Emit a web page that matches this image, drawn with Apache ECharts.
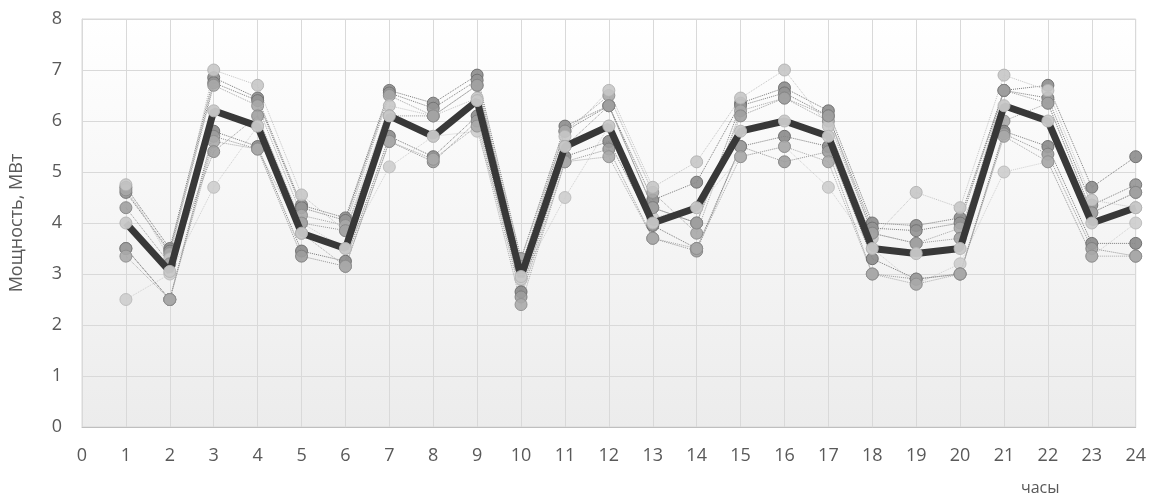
<!DOCTYPE html>
<html>
<head>
<meta charset="utf-8">
<script src="https://cdn.jsdelivr.net/npm/echarts@6/dist/echarts.min.js"></script>
<style>
  html, body { margin: 0; padding: 0; background: #ffffff; }
  #chart { width: 1149px; height: 495px; }
</style>
</head>
<body>
<div id="chart"></div>
<script>
// Hourly power readings (MW) for individual days, plus the average profile
const hours = [1,2,3,4,5,6,7,8,9,10,11,12,13,14,15,16,17,18,19,20,21,22,23,24];

const day1 = [4.7,3.5,6.85,6.45,4.35,4.1,6.6,6.35,6.9,3.3,5.9,6.3,4.45,4.8,6.35,6.65,6.2,4.0,3.95,4.1,6.6,6.7,4.7,5.3];
const day2 = [4.6,3.45,6.75,6.4,4.3,4.05,6.55,6.25,6.8,3.15,5.8,6.3,4.3,4.0,6.3,6.55,6.1,3.9,3.85,4.0,6.6,6.45,4.35,4.75];
const day3 = [4.65,3.4,6.7,6.3,4.15,3.95,6.5,6.1,6.7,3.3,5.8,6.5,4.6,3.8,6.2,6.45,6.0,3.8,3.6,3.9,6.0,6.35,4.2,4.6];
const day4 = [4.75,3.3,7.0,6.7,4.55,3.85,6.3,6.1,6.45,2.9,5.7,6.6,4.7,5.2,6.45,7.0,5.9,3.7,4.6,4.3,6.9,6.6,4.45,4.3];
const day5 = [2.5,3.0,4.7,5.9,4.0,3.5,5.1,5.7,5.8,2.9,4.5,5.9,4.1,4.3,5.3,5.5,4.7,3.5,2.8,3.2,5.0,5.2,3.35,4.0];
const day6 = [3.5,2.5,5.8,5.5,3.45,3.25,5.7,5.3,6.1,2.65,5.3,5.6,3.95,3.5,5.5,5.7,5.5,3.3,2.9,3.0,5.8,5.5,3.6,3.6];
const day7 = [3.5,2.5,5.7,5.45,3.35,3.15,5.6,5.2,6.0,2.55,5.2,5.45,3.7,3.45,5.5,5.2,5.4,3.0,2.9,3.0,5.75,5.35,3.5,3.35];
const day8 = [3.35,2.5,5.6,5.45,3.8,3.15,5.6,5.25,5.9,2.4,5.2,5.3,3.7,3.5,5.3,5.5,5.2,3.0,2.8,3.0,5.7,5.2,3.35,3.35];
const day9 = [4.3,3.2,5.4,6.1,4.0,3.85,6.1,6.1,6.7,3.15,5.5,6.3,4.3,4.0,6.1,6.45,6.1,3.8,3.6,3.7,6.6,6.35,4.2,4.6];

const average = [4.0,3.05,6.2,5.9,3.8,3.5,6.1,5.7,6.4,2.95,5.5,5.9,4.0,4.3,5.8,6.0,5.7,3.5,3.4,3.5,6.3,6.0,4.0,4.3];

const yTicks = [0,1,2,3,4,5,6,7,8];

const days = [
  { values: day1, line: '#7a7a7a', fill: '#8c8c8c', edge: '#6a6a6a' },
  { values: day2, line: '#7f7f7f', fill: '#939393', edge: '#6f6f6f' },
  { values: day3, line: '#a5a5a5', fill: '#a8a8a8', edge: '#8c8c8c' },
  { values: day4, line: '#c4c4c4', fill: '#c6c6c6', edge: '#b0b0b0' },
  { values: day5, line: '#cfcfcf', fill: '#cdcdcd', edge: '#bababa' },
  { values: day6, line: '#7a7a7a', fill: '#8a8a8a', edge: '#676767' },
  { values: day7, line: '#959595', fill: '#9d9d9d', edge: '#7c7c7c' },
  { values: day8, line: '#a8a8a8', fill: '#aaaaaa', edge: '#8e8e8e' },
  { values: day9, line: '#9a9a9a', fill: '#a0a0a0', edge: '#848484' }
];

const pairs = vals => hours.map((h, i) => [h, vals[i]]);

const textColor = '#595959';
const font = '"Open Sans", "Liberation Sans", sans-serif';

const series = days.map((d, k) => ({
  type: 'line',
  name: 'day' + (k + 1),
  data: pairs(d.values),
  symbol: 'circle',
  symbolSize: 12,
  z: 2,
  lineStyle: { color: d.line, width: 1, type: 'dotted' },
  itemStyle: { color: d.fill, opacity: 0.9, borderColor: d.edge, borderWidth: 1 },
  emphasis: { disabled: true },
  animation: false
}));

series.push({
  type: 'line',
  name: 'average',
  data: pairs(average),
  symbol: 'circle',
  symbolSize: 12,
  z: 5,
  lineStyle: { color: '#383838', width: 7 },
  itemStyle: { color: '#c8c8c8', opacity: 0.95, borderColor: '#b4b4b4', borderWidth: 1 },
  emphasis: { disabled: true },
  animation: false
});

const chart = echarts.init(document.getElementById('chart'), null, { renderer: 'canvas' });

chart.setOption({
  animation: false,
  backgroundColor: '#ffffff',
  grid: {
    left: 82, right: 11, top: 19, bottom: 68,
    show: true,
    borderColor: '#d9d9d9',
    borderWidth: 1,
    backgroundColor: new echarts.graphic.LinearGradient(0, 0, 0, 1, [
      { offset: 0, color: '#ffffff' },
      { offset: 1, color: '#ececec' }
    ])
  },
  xAxis: {
    type: 'value',
    min: 0, max: 24, interval: 1,
    axisLine: { show: true, lineStyle: { color: '#bfbfbf', width: 1 } },
    axisTick: { show: false },
    splitLine: { show: true, lineStyle: { color: '#d9d9d9', width: 1 } },
    axisLabel: { color: textColor, fontFamily: font, fontSize: 18, margin: 20 }
  },
  yAxis: {
    type: 'value',
    min: yTicks[0], max: yTicks[yTicks.length - 1], interval: 1,
    name: 'Мощность, МВт',
    nameLocation: 'middle',
    nameGap: 56,
    nameTextStyle: { color: textColor, fontFamily: font, fontSize: 18 },
    axisLine: { show: true, lineStyle: { color: '#d9d9d9' } },
    axisTick: { show: false },
    splitLine: { show: true, lineStyle: { color: '#d9d9d9', width: 1 } },
    axisLabel: { color: textColor, fontFamily: font, fontSize: 18, margin: 20 }
  },
  graphic: [{
    type: 'text',
    left: 1021,
    top: 480,
    style: { text: 'часы', fill: textColor, font: '16px ' + font }
  }],
  series: series
});
</script>
</body>
</html>
